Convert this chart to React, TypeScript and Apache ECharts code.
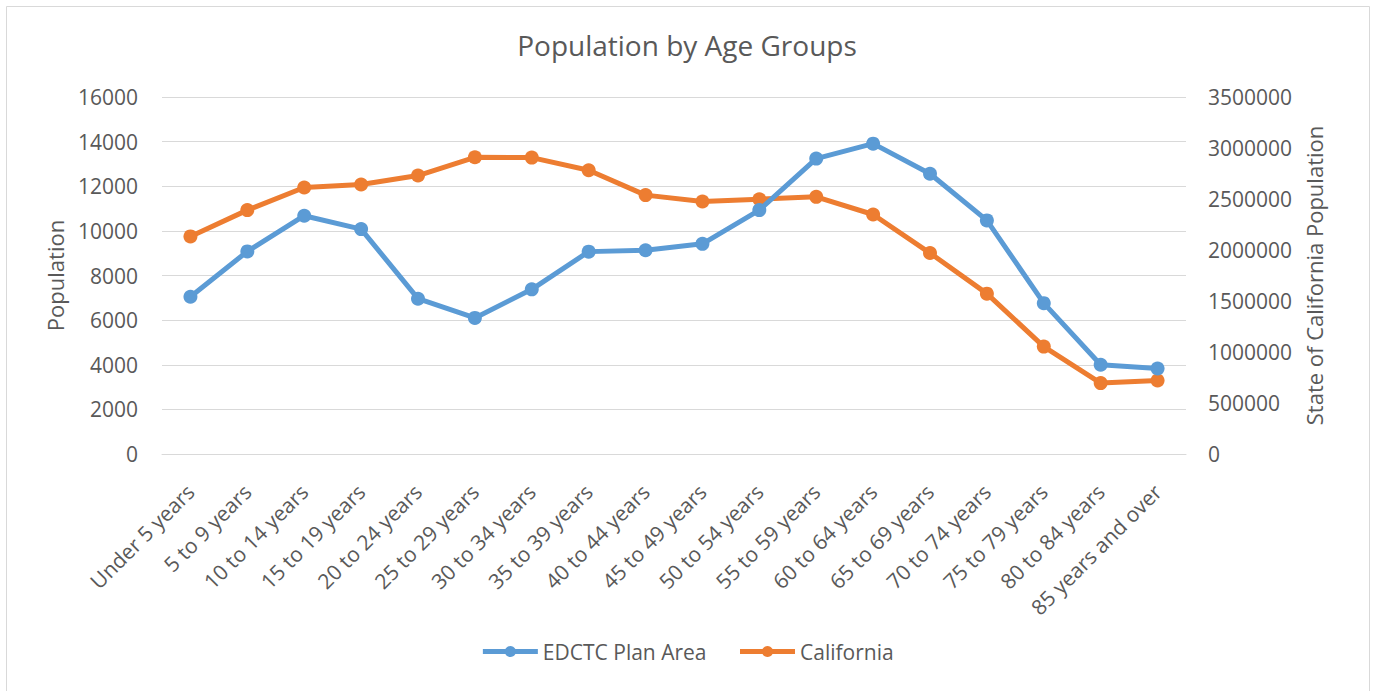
import React, { useEffect, useRef } from "react";
import * as echarts from "echarts";

const categories = [
  "Under 5 years", "5 to 9 years", "10 to 14 years", "15 to 19 years", "20 to 24 years",
  "25 to 29 years", "30 to 34 years", "35 to 39 years", "40 to 44 years", "45 to 49 years",
  "50 to 54 years", "55 to 59 years", "60 to 64 years", "65 to 69 years", "70 to 74 years",
  "75 to 79 years", "80 to 84 years", "85 years and over",
];

const edctcValues = [
  7050, 9080, 10680, 10080, 6960, 6100, 7380, 9070, 9130, 9420,
  10930, 13240, 13910, 12560, 10470, 6760, 4000, 3830,
];

const californiaValues = [
  2133000, 2391000, 2613000, 2642000, 2730000, 2909000, 2906000, 2782000, 2538000, 2476000,
  2498000, 2521000, 2348000, 1970000, 1572000, 1053000, 695000, 721000,
];

const leftTicks = { min: 0, max: 16000, interval: 2000 };
const rightTicks = { min: 0, max: 3500000, interval: 500000 };

const FONT = "'Open Sans', 'Noto Sans', sans-serif";
const TEXT = "#595959";

const plain = (v: number) => String(v);

export default function App() {
  const ref = useRef<HTMLDivElement>(null);

  useEffect(() => {
    document.body.style.margin = "0";
    if (!ref.current) return;
    const chart = echarts.init(ref.current, undefined, { renderer: "svg" });
    chart.setOption({
      animation: false,
      backgroundColor: "#ffffff",
      textStyle: { fontFamily: FONT, color: TEXT },
      title: {
        text: "Population by Age Groups",
        left: "center",
        top: 26,
        textStyle: { fontFamily: FONT, fontSize: 28, fontWeight: "normal", color: TEXT },
      },
      legend: {
        bottom: 24,
        left: "center",
        itemWidth: 55,
        itemHeight: 14,
        itemGap: 31,
        lineStyle: { width: 5 },
        textStyle: { fontFamily: FONT, fontSize: 21, color: TEXT },
        data: ["EDCTC Plan Area", "California"],
      },
      grid: { left: 162, right: 188, top: 97, bottom: 237 },
      xAxis: {
        type: "category",
        data: categories,
        boundaryGap: true,
        axisLine: { show: true, lineStyle: { color: "#d9d9d9", width: 1 } },
        axisTick: { show: false },
        axisLabel: {
          interval: 0,
          rotate: 45,
          margin: 34,
          fontFamily: FONT,
          fontSize: 21,
          color: TEXT,
        },
      },
      yAxis: [
        {
          type: "value",
          min: leftTicks.min,
          max: leftTicks.max,
          interval: leftTicks.interval,
          name: "Population",
          nameLocation: "middle",
          nameRotate: 90,
          nameGap: 96,
          nameTextStyle: { fontFamily: FONT, fontSize: 22, color: TEXT },
          axisLine: { show: false },
          axisTick: { show: false },
          axisLabel: { margin: 24, fontFamily: FONT, fontSize: 21, color: TEXT, formatter: plain },
          splitLine: { show: true, lineStyle: { color: "#d9d9d9", width: 1 } },
        },
        {
          type: "value",
          position: "right",
          min: rightTicks.min,
          max: rightTicks.max,
          interval: rightTicks.interval,
          name: "State of California Population",
          nameLocation: "middle",
          nameRotate: 90,
          nameGap: 113,
          nameTextStyle: { fontFamily: FONT, fontSize: 22, color: TEXT },
          axisLine: { show: false },
          axisTick: { show: false },
          axisLabel: { margin: 22, fontFamily: FONT, fontSize: 21, color: TEXT, formatter: plain },
          splitLine: { show: false },
        },
      ],
      series: [
        {
          name: "EDCTC Plan Area",
          type: "line",
          yAxisIndex: 0,
          data: edctcValues,
          symbol: "circle",
          symbolSize: 14,
          lineStyle: { color: "#5B9BD5", width: 5 },
          itemStyle: { color: "#5B9BD5" },
          z: 3,
        },
        {
          name: "California",
          type: "line",
          yAxisIndex: 1,
          data: californiaValues,
          symbol: "circle",
          symbolSize: 14,
          lineStyle: { color: "#ED7D31", width: 5 },
          itemStyle: { color: "#ED7D31" },
          z: 2,
        },
      ],
      graphic: [
        {
          type: "rect",
          left: 4,
          top: 4,
          shape: { width: 1363, height: 685 },
          style: { fill: "none", stroke: "#d9d9d9", lineWidth: 1 },
          silent: true,
        },
      ],
    });
    return () => chart.dispose();
  }, []);

  return <div ref={ref} style={{ width: 1374, height: 691 }} />;
}
